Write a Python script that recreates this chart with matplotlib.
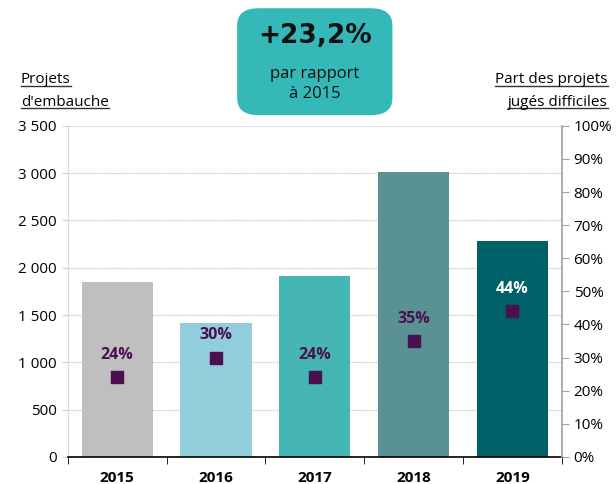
import matplotlib.pyplot as plt
from matplotlib.patches import FancyBboxPatch
from matplotlib.lines import Line2D
from matplotlib.ticker import FuncFormatter

plt.rcParams['font.family'] = ['Open Sans', 'DejaVu Sans']

years = ['2015', '2016', '2017', '2018', '2019']
projets = [1850, 1420, 1910, 3010, 2280]
part_difficiles = [24, 30, 24, 35, 44]
bar_colors = ['#BFBFBF', '#92CDDC', '#45B6B5', '#5A9193', '#006068']
label_colors = ['#4A1050', '#4A1050', '#4A1050', '#4A1050', 'white']

fig = plt.figure(figsize=(6.16, 4.84), dpi=100)
ax = fig.add_axes([0.110, 0.056, 0.802, 0.684])
x = range(len(years))
ax.bar(x, projets, width=0.72, color=bar_colors, zorder=2)
ax.set_xlim(-0.5, 4.5)
ax.set_ylim(0, 3500)
ax.set_yticks(range(0, 3501, 500))
ax.yaxis.set_major_formatter(FuncFormatter(lambda v, p: f"{int(v):,}".replace(',', ' ')))
ax.grid(axis='y', color='#D0D0D0', linestyle=(0, (1, 0.5)), linewidth=0.9, zorder=0)
ax.set_xticks(list(x))
ax.set_xticklabels(years, fontweight='bold', fontsize=11)
ax.set_xticks([i + 0.5 for i in range(-1, 5)], minor=True)
ax.tick_params(axis='x', which='major', length=0, pad=10)
ax.tick_params(axis='x', which='minor', length=5, color='black', direction='out')
ax.tick_params(axis='y', labelsize=11, length=4, color='#D0D0D0', pad=4)
for s in ['top', 'right']:
    ax.spines[s].set_visible(False)
ax.spines['left'].set_color('#D9D9D9')
ax.spines['bottom'].set_color('black')
ax.spines['bottom'].set_linewidth(1.2)

ax2 = ax.twinx()
ax2.set_ylim(0, 100)
ax2.set_yticks(range(0, 101, 10))
ax2.yaxis.set_major_formatter(FuncFormatter(lambda v, p: f"{int(v)}%"))
ax2.tick_params(axis='y', labelsize=11, length=5, color='#A0A0A0')
for s in ['top', 'left', 'bottom']:
    ax2.spines[s].set_visible(False)
ax2.spines['right'].set_color('#A0A0A0')
ax2.spines['right'].set_linewidth(1.2)
ax2.scatter(x, part_difficiles, marker='s', s=78, color='#4A1050', zorder=3)
for i, v in enumerate(part_difficiles):
    ax2.annotate(f"{v}%", (i, v), xytext=(0, 16), textcoords='offset points',
                 ha='center', va='center', fontsize=11.5, fontweight='bold',
                 color=label_colors[i])

# axis titles, underlined
def underlined(lines, xpos, y0, ha):
    renderer = fig.canvas.get_renderer()
    for k, line in enumerate(lines):
        t = fig.text(xpos, y0 - k * 0.047, line, ha=ha, va='baseline', fontsize=11)
        bb = t.get_window_extent(renderer).transformed(fig.transFigure.inverted())
        yl = y0 - k * 0.047 - 0.005
        fig.add_artist(Line2D([bb.x0, bb.x1], [yl, yl], color='#333333', linewidth=1))

underlined(['Projets', "d'embauche"], 0.034, 0.828, 'left')
underlined(['Part des projets', 'jugés difficiles'], 0.987, 0.828, 'right')

box = FancyBboxPatch((0.385, 0.762), 0.252, 0.221, boxstyle='round,pad=0,rounding_size=0.035',
                     transform=fig.transFigure, facecolor='#35B8B8', edgecolor='none')
fig.add_artist(box)
fig.text(0.511, 0.925, '+23,2%', ha='center', va='center', fontsize=19,
         family='DejaVu Sans', fontweight='semibold', color='#111111')
fig.text(0.511, 0.827, 'par rapport\nà 2015', ha='center', va='center', fontsize=12,
         color='#111111', linespacing=1.3)

plt.savefig('out.png', dpi=100)
